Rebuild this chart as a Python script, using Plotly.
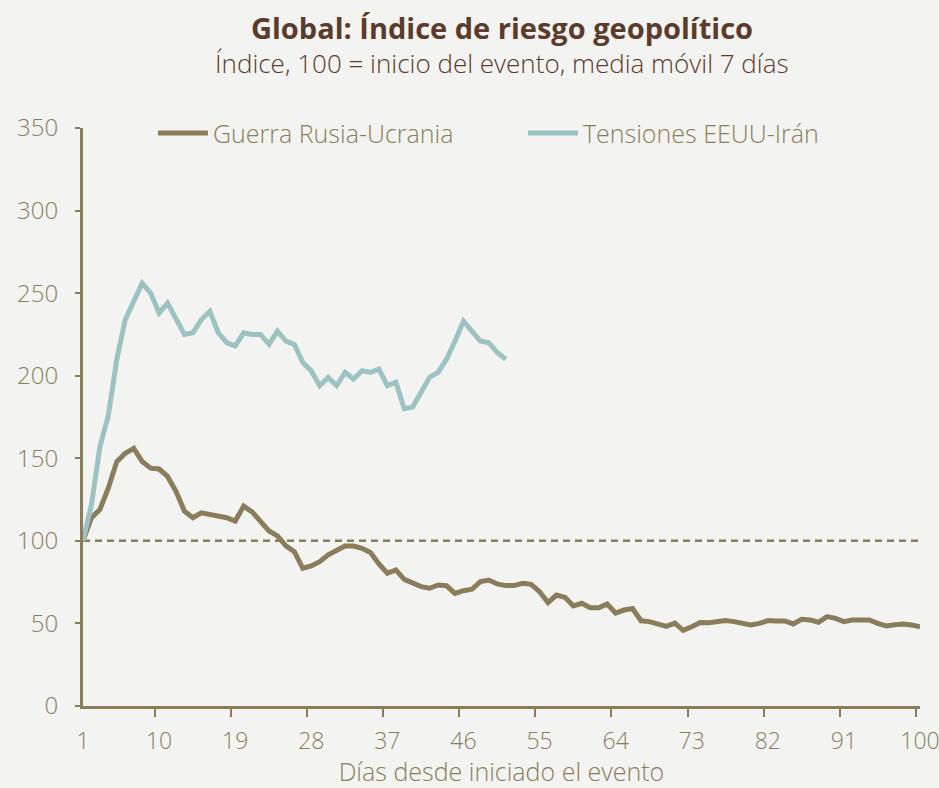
import plotly.graph_objects as go

days = list(range(1, 101))
russia = [100, 114, 119, 132, 148, 153, 156, 148, 144, 143.5,
          139, 130, 118, 114, 117, 116, 115, 114, 112, 121,
          117.5, 111.5, 106, 103, 97, 93.5, 83.4, 84.8, 87.4, 91.5,
          94.1, 96.9, 96.9, 95.5, 92.9, 86, 80.4, 82.4, 76.7, 74.7,
          72.3, 71.3, 73.3, 72.8, 68.2, 69.8, 70.7, 75.3, 76.3, 73.9,
          72.9, 72.9, 74.3, 73.7, 69.2, 62.6, 67.2, 65.8, 60.6, 62.2,
          59.5, 59.5, 61.8, 56.3, 58.1, 59, 51.6, 51.1, 49.7, 48.2,
          50.2, 45.8, 48, 50.6, 50.4, 51.1, 51.7, 51.1, 50, 49.1,
          50, 51.7, 51.5, 51.5, 49.7, 52.5, 52.1, 50.7, 54.1, 53.1,
          51.1, 52.1, 52.1, 52.1, 50, 48.5, 49.2, 49.7, 49.1, 48]
iran = [100, 122, 157, 176, 210, 234, 245, 256, 250, 238,
        244, 235, 225, 226, 234, 239, 226, 220, 218, 226,
        225, 225, 219, 227, 221, 219, 208, 203, 194, 199,
        194, 202, 198, 203, 202, 204, 194, 196, 180, 181,
        190, 199, 202, 210, 221, 233, 227, 221, 220, 214, 210]
baseline = 100
y_ticks = [0, 50, 100, 150, 200, 250, 300, 350]

title = "Global: Índice de riesgo geopolítico"
subtitle = "Índice, 100 = inicio del evento, media móvil 7 días"
x_title = "Días desde iniciado el evento"
names = ["Guerra Rusia-Ucrania", "Tensiones EEUU-Irán"]

BROWN = "#8b7d5c"
TEAL = "#9cc3c1"
DARK = "#5b3b2c"
BG = "#f3f3f1"
FONT = "Open Sans"

x_all = [str(d) for d in days]
x_iran = [str(d) for d in days[:len(iran)]]

fig = go.Figure()
fig.add_trace(go.Scatter(x=x_all, y=russia, mode="lines", name=names[0],
                         line=dict(color=BROWN, width=5)))
fig.add_trace(go.Scatter(x=x_iran, y=iran, mode="lines", name=names[1],
                         line=dict(color=TEAL, width=5)))
fig.add_hline(y=baseline, line=dict(color=BROWN, width=2.5, dash="7px,5px"), layer="below")

fig.update_layout(
    width=939, height=788,
    paper_bgcolor=BG, plot_bgcolor=BG,
    margin=dict(l=83, r=19, t=128, b=82, autoexpand=False),
    font=dict(family=FONT, color=BROWN, size=20, weight=300),
    showlegend=True,
    legend=dict(orientation="h", x=0.0836, y=0.991, xanchor="left", yanchor="middle",
                bgcolor="rgba(0,0,0,0)", font=dict(size=25, color=BROWN, weight=300),
                itemwidth=50, entrywidth=305, entrywidthmode="pixels"),
    annotations=[
        dict(text=f"<b>{title}</b>", x=0.5, xref="paper", y=1.1747, yref="paper",
             xanchor="center", yanchor="middle", showarrow=False,
             font=dict(size=29, color=DARK, family=FONT, weight=700)),
        dict(text=subtitle, x=0.5, xref="paper", y=1.1125, yref="paper",
             xanchor="center", yanchor="middle", showarrow=False,
             font=dict(size=26, color=DARK, family=FONT, weight=300)),
    ],
)
fig.update_xaxes(type="category", tickmode="linear", tick0=0, dtick=9,
                 tickson="boundaries", ticks="outside", ticklen=8, tickwidth=2,
                 tickangle=0, automargin=False,
                 tickcolor=BROWN, showline=True, linecolor=BROWN, linewidth=3,
                 showgrid=False, zeroline=False, ticklabelstandoff=12,
                 title=dict(text=x_title, standoff=12, font=dict(size=25, color=BROWN, weight=300)),
                 tickfont=dict(size=23, color=BROWN, weight=300))
fig.update_yaxes(range=[0, 350], tickmode="array", tickvals=y_ticks, automargin=False,
                 ticks="outside", ticklen=5, tickwidth=2, tickcolor=BROWN,
                 showline=True, linecolor=BROWN, linewidth=3, showgrid=False,
                 zeroline=False, ticklabelstandoff=12,
                 tickfont=dict(size=24, color=BROWN, weight=300))

fig.write_html("out.html", config={"displayModeBar": False},
               post_script=f"document.body.style.margin='0';document.body.style.background='{BG}';")
